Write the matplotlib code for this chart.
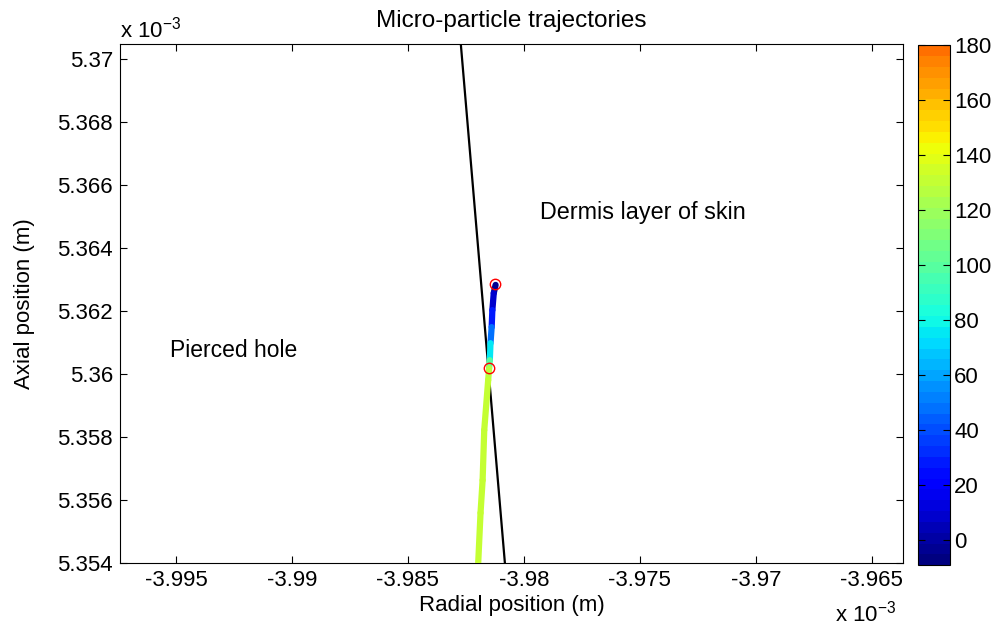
#!/usr/bin/python3
# -*- coding: utf-8 -*-
import matplotlib
matplotlib.use('Agg')
import matplotlib.pyplot as plt
import numpy as np
from matplotlib.collections import LineCollection
from matplotlib.colors import ListedColormap, Normalize
from matplotlib.ticker import FuncFormatter

plt.rcParams['font.family'] = ['Liberation Sans', 'DejaVu Sans']

# trajectory, x and y in units of 1e-3 m, value = colour quantity
traj_x = [-3.98122, -3.98130, -3.98136, -3.98139, -3.98144, -3.98147,
          -3.98150, -3.98154, -3.98171, -3.98178, -3.98187, -3.98197]
traj_y = [5.36283, 5.36257, 5.36203, 5.36149, 5.36098, 5.36044,
          5.36019, 5.35981, 5.35822, 5.35663, 5.35559, 5.35400]
traj_v = [-5, 10, 30, 50, 75, 100, 128, 130, 130, 130, 130, 130]

# start / contact points
mark_x = [-3.98125, -3.98150]
mark_y = [5.36286, 5.36019]

# skin boundary line
bound_x = [-3.98272, -3.98082]
bound_y = [5.37048, 5.35400]

xticks = [-3.995, -3.99, -3.985, -3.98, -3.975, -3.97, -3.965]
yticks = [5.354, 5.356, 5.358, 5.36, 5.362, 5.364, 5.366, 5.368, 5.37]
cticks = [0, 20, 40, 60, 80, 100, 120, 140, 160, 180]

FS = 16


def main():
    fig = plt.figure(figsize=(10, 6.28), dpi=100)
    ax = fig.add_axes([0.12, 0.1035, 0.783, 0.8265])
    cax = fig.add_axes([0.918, 0.100, 0.032, 0.828])

    # jet, cut before the red end like the original colorbar
    cmap = ListedColormap(plt.get_cmap('jet')(np.linspace(0, 0.79, 48)))
    norm = Normalize(vmin=-9, vmax=180)

    ax.plot(bound_x, bound_y, color='black', lw=1.6, zorder=2)

    pts = np.column_stack([traj_x, traj_y])
    segs = np.stack([pts[:-1], pts[1:]], axis=1)
    lc = LineCollection(segs, cmap=cmap, norm=norm, linewidth=4.5,
                        capstyle='round', zorder=3)
    lc.set_array(np.array(traj_v[:-1], dtype=float))
    ax.add_collection(lc)

    ax.plot(mark_x, mark_y, 'o', mfc='none', mec='red', ms=7.5, mew=1, zorder=4)

    ax.text(-3.97931, 5.36514, 'Dermis layer of skin', fontsize=16.8, va='center')
    ax.text(-3.99526, 5.36076, 'Pierced hole', fontsize=16.5, va='center')

    ax.set_xlim(-3.99741, -3.96366)
    ax.set_ylim(5.354, 5.37048)
    ax.set_xticks(xticks)
    ax.set_yticks(yticks)
    fmt = FuncFormatter(lambda v, p: ('%g' % v).replace('\u2212', '-'))
    ax.xaxis.set_major_formatter(fmt)
    ax.yaxis.set_major_formatter(fmt)
    ax.tick_params(direction='in', top=True, right=True, labelsize=FS,
                   length=5, width=0.8, pad=5)
    ax.set_xlabel('Radial position (m)', fontsize=FS, labelpad=3)
    ax.set_ylabel('Axial position (m)', fontsize=FS, labelpad=16)
    ax.set_title('Micro-particle trajectories', fontsize=17.5, pad=12)
    ax.text(0.0, 1.0116, r'x 10$^{\mathregular{-3}}$', transform=ax.transAxes,
            fontsize=FS, ha='left', va='baseline')
    ax.text(0.913, -0.1118, r'x 10$^{\mathregular{-3}}$', transform=ax.transAxes,
            fontsize=FS, ha='left', va='baseline')

    cb = fig.colorbar(lc, cax=cax, ticks=cticks)
    cb.outline.set_linewidth(0.8)
    cax.tick_params(direction='in', left=True, right=True, labelsize=FS,
                    length=5, width=0.8, pad=3)

    fig.savefig('out.png', dpi=100)


if __name__ == '__main__':
    main()
